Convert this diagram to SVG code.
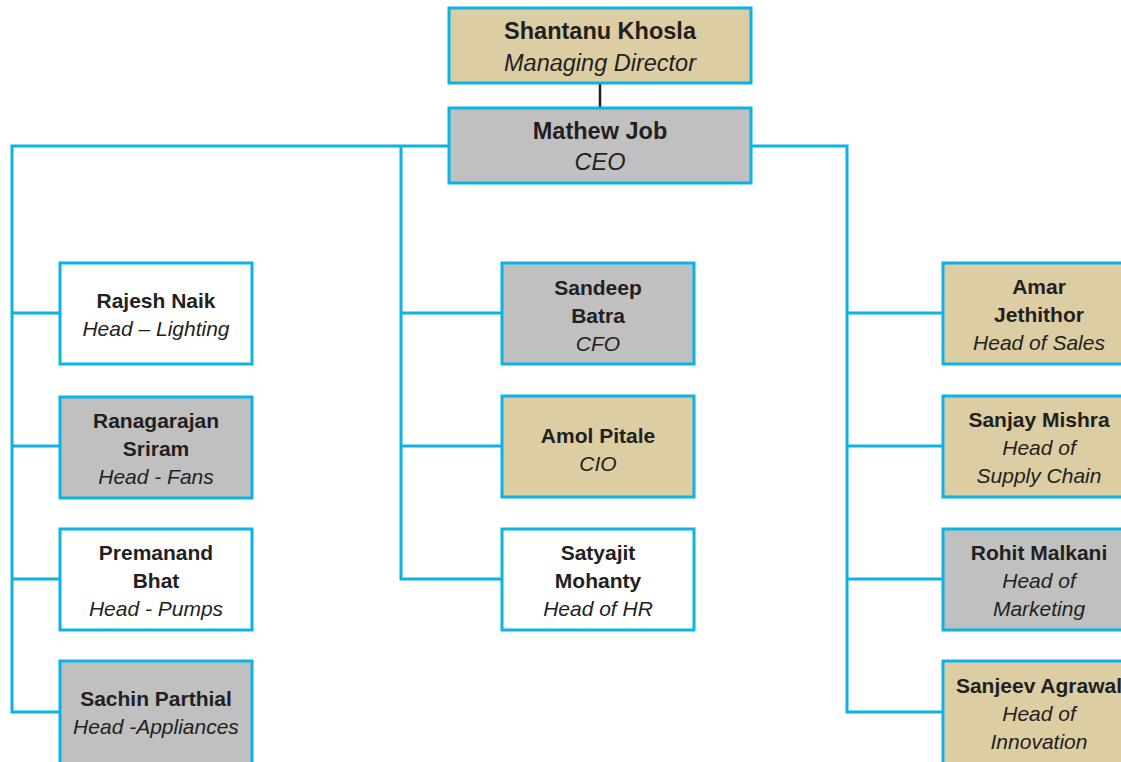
<svg xmlns="http://www.w3.org/2000/svg" width="1121" height="762" viewBox="0 0 1121 762">
  <style>
    .box { stroke: #0db2e6; stroke-width: 3; }
    .tan { fill: #dccda3; }
    .gray { fill: #c0c0c0; }
    .white { fill: #ffffff; }
    .link { fill: none; stroke: #0db2e6; stroke-width: 3; }
    text { font-family: "Liberation Sans", Arial, sans-serif; fill: #231f20; text-anchor: middle; }
    .name { font-weight: bold; font-size: 21px; }
    .role { font-style: italic; font-size: 21px; }
    .top-name { font-weight: bold; font-size: 23.5px; }
    .top-role { font-style: italic; font-size: 23.5px; }
  </style>
  <rect width="1121" height="762" fill="#ffffff"/>

  <!-- reporting lines -->
  <g id="connectors">
    <line x1="600" y1="83" x2="600" y2="108" stroke="#231f20" stroke-width="2.5"/>
    <polyline class="link" points="449,146 12,146 12,712 60,712"/>
    <line class="link" x1="12" y1="313" x2="60" y2="313"/>
    <line class="link" x1="12" y1="446" x2="60" y2="446"/>
    <line class="link" x1="12" y1="579" x2="60" y2="579"/>
    <polyline class="link" points="401,146 401,579 502,579"/>
    <line class="link" x1="401" y1="313" x2="502" y2="313"/>
    <line class="link" x1="401" y1="446" x2="502" y2="446"/>
    <polyline class="link" points="751,146 847,146 847,712 943,712"/>
    <line class="link" x1="847" y1="313" x2="943" y2="313"/>
    <line class="link" x1="847" y1="446" x2="943" y2="446"/>
    <line class="link" x1="847" y1="579" x2="943" y2="579"/>
  </g>

  <g id="md">
    <rect class="box tan" x="449" y="8" width="302" height="75"/>
    <text class="top-name" x="600" y="39">Shantanu Khosla</text>
    <text class="top-role" x="600" y="71">Managing Director</text>
  </g>
  <g id="ceo">
    <rect class="box gray" x="449" y="108" width="302" height="75"/>
    <text class="top-name" x="600" y="139">Mathew Job</text>
    <text class="top-role" x="600" y="170">CEO</text>
  </g>

  <!-- left column -->
  <g id="rajesh">
    <rect class="box white" x="60" y="263" width="192" height="101"/>
    <text class="name" x="156" y="308">Rajesh Naik</text>
    <text class="role" x="156" y="336">Head – Lighting</text>
  </g>
  <g id="ranagarajan">
    <rect class="box gray" x="60" y="397" width="192" height="101"/>
    <text class="name" x="156" y="428">Ranagarajan</text>
    <text class="name" x="156" y="456">Sriram</text>
    <text class="role" x="156" y="484">Head - Fans</text>
  </g>
  <g id="premanand">
    <rect class="box white" x="60" y="529" width="192" height="101"/>
    <text class="name" x="156" y="560">Premanand</text>
    <text class="name" x="156" y="588">Bhat</text>
    <text class="role" x="156" y="616">Head - Pumps</text>
  </g>
  <g id="sachin">
    <rect class="box gray" x="60" y="661" width="192" height="103"/>
    <text class="name" x="156" y="706">Sachin Parthial</text>
    <text class="role" x="156" y="734">Head -Appliances</text>
  </g>

  <!-- middle column -->
  <g id="sandeep">
    <rect class="box gray" x="502" y="263" width="192" height="101"/>
    <text class="name" x="598" y="295">Sandeep</text>
    <text class="name" x="598" y="323">Batra</text>
    <text class="role" x="598" y="351">CFO</text>
  </g>
  <g id="amol">
    <rect class="box tan" x="502" y="396" width="192" height="101"/>
    <text class="name" x="598" y="443">Amol Pitale</text>
    <text class="role" x="598" y="471">CIO</text>
  </g>
  <g id="satyajit">
    <rect class="box white" x="502" y="529" width="192" height="101"/>
    <text class="name" x="598" y="560">Satyajit</text>
    <text class="name" x="598" y="588">Mohanty</text>
    <text class="role" x="598" y="616">Head of HR</text>
  </g>

  <!-- right column -->
  <g id="amar">
    <rect class="box tan" x="943" y="263" width="192" height="101"/>
    <text class="name" x="1039" y="294">Amar</text>
    <text class="name" x="1039" y="322">Jethithor</text>
    <text class="role" x="1039" y="350">Head of Sales</text>
  </g>
  <g id="sanjay">
    <rect class="box tan" x="943" y="396" width="192" height="101"/>
    <text class="name" x="1039" y="427">Sanjay Mishra</text>
    <text class="role" x="1039" y="455">Head of</text>
    <text class="role" x="1039" y="483">Supply Chain</text>
  </g>
  <g id="rohit">
    <rect class="box gray" x="943" y="529" width="192" height="101"/>
    <text class="name" x="1039" y="560">Rohit Malkani</text>
    <text class="role" x="1039" y="588">Head of</text>
    <text class="role" x="1039" y="616">Marketing</text>
  </g>
  <g id="sanjeev">
    <rect class="box tan" x="943" y="661" width="192" height="103"/>
    <text class="name" x="1039" y="693">Sanjeev Agrawal</text>
    <text class="role" x="1039" y="721">Head of</text>
    <text class="role" x="1039" y="749">Innovation</text>
  </g>
</svg>
